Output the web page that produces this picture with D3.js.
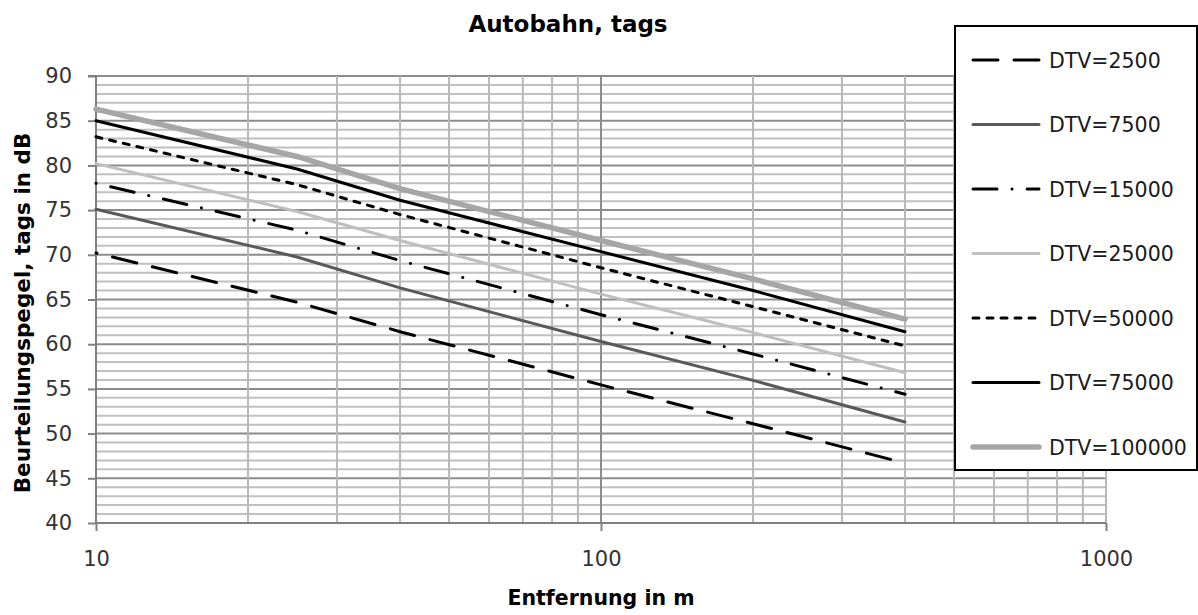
<!DOCTYPE html>
<html>
<head>
<meta charset="utf-8">
<script src="https://cdn.jsdelivr.net/npm/d3@7"></script>
<style>
  html, body { margin: 0; padding: 0; background: #fff; }
  svg { display: block; }
</style>
</head>
<body>
<svg id="chart" width="1198" height="615"></svg>
<script>
// Distances (m) at which the levels are given
const distances = [10, 25, 40, 100, 200, 400];

// Beurteilungspegel (dB) per traffic volume
const dtv2500   = [70.2, 64.7, 61.4, 55.45, 51.1, 46.7];
const dtv7500   = [75.1, 69.75, 66.3, 60.3, 55.95, 51.3];
const dtv15000  = [78.0, 72.75, 69.35, 63.3, 58.9, 54.4];
const dtv25000  = [80.2, 74.85, 71.6, 65.6, 61.3, 56.8];
const dtv50000  = [83.2, 77.85, 74.5, 68.55, 64.2, 59.8];
const dtv75000  = [85.0, 79.6, 76.1, 70.35, 66.0, 61.4];
const dtv100000 = [86.3, 81.0, 77.4, 71.6, 67.3, 62.8];

const seriesNames = ["DTV=2500", "DTV=7500", "DTV=15000", "DTV=25000", "DTV=50000", "DTV=75000", "DTV=100000"];
const seriesValues = [dtv2500, dtv7500, dtv15000, dtv25000, dtv50000, dtv75000, dtv100000];

const xTickValues = [10, 100, 1000];
const yTickValues = [40, 45, 50, 55, 60, 65, 70, 75, 80, 85, 90];

const titleText = "Autobahn, tags";
const xTitle = "Entfernung in m";
const yTitle = "Beurteilungspegel, tags in dB";

// line styles per series
const styles = [
  { color: "#000000", width: 3,   dash: "25,16",           offset: 24, cap: "round" },
  { color: "#595959", width: 3,   dash: null,              offset: 0,  cap: "round" },
  { color: "#000000", width: 3,   dash: "24,15,0.1,15",    offset: 39, cap: "round" },
  { color: "#bfbfbf", width: 3,   dash: null,              offset: 0,  cap: "round" },
  { color: "#000000", width: 3,   dash: "6,8",             offset: 0,  cap: "round" },
  { color: "#000000", width: 3,   dash: null,              offset: 0,  cap: "round" },
  { color: "#a6a6a6", width: 5.5, dash: null,              offset: 0,  cap: "round" }
];

const FONT = "'DejaVu Sans', 'Open Sans', sans-serif";

const svg = d3.select("#chart");
svg.append("rect").attr("width", 1198).attr("height", 615).attr("fill", "#fff");

const x = d3.scaleLog().domain([10, 1000]).range([96, 1106]);
const y = d3.scaleLinear().domain([40, 90]).range([523, 76]);

const grid = svg.append("g");

// horizontal gridlines, 1 dB minor / 5 dB major
const hVals = d3.range(41, 91);
grid.selectAll("line.h").data(hVals).join("line")
  .attr("x1", x(10)).attr("x2", x(1000))
  .attr("y1", d => y(d)).attr("y2", d => y(d))
  .attr("stroke", d => d % 5 === 0 ? "#8c8c8c" : "#c0c0c0")
  .attr("stroke-width", 2);

// vertical gridlines at every log sub-division
const vVals = [];
[10, 100].forEach(b => { for (let k = 2; k <= 10; k++) vVals.push(b * k); });
grid.selectAll("line.v").data(vVals).join("line")
  .attr("x1", d => x(d)).attr("x2", d => x(d))
  .attr("y1", y(40)).attr("y2", y(90))
  .attr("stroke", d => d === 100 ? "#8c8c8c" : "#b8b8b8")
  .attr("stroke-width", 2);

// axes
const xAxis = d3.axisBottom(x).tickValues(xTickValues).tickFormat(d3.format("d")).tickSize(8).tickPadding(20);
const yAxis = d3.axisLeft(y).tickValues(yTickValues).tickSize(8).tickPadding(16);

const gx = svg.append("g").attr("transform", `translate(0,${y(40)})`).call(xAxis);
const gy = svg.append("g").attr("transform", `translate(${x(10)},0)`).call(yAxis);

[gx, gy].forEach(g => {
  g.select(".domain").attr("stroke", "#808080").attr("stroke-width", 2);
  g.selectAll(".tick line").attr("stroke", "#808080").attr("stroke-width", 2);
  g.selectAll(".tick text").attr("fill", "#333").attr("font-family", FONT).attr("font-size", 21);
});
gy.select(".domain").attr("d", `M-8,${y(90)}H0V${y(40)}`);
gx.select(".domain").attr("d", `M${x(10)},0H${x(1000)}`);

// series lines
const line = d3.line().x(d => x(d[0])).y(d => y(d[1]));
seriesValues.forEach((vals, i) => {
  const s = styles[i];
  const pts = distances.map((d, j) => [d, vals[j]]);
  const p = svg.append("path")
    .attr("d", line(pts))
    .attr("fill", "none")
    .attr("stroke", s.color)
    .attr("stroke-width", s.width)
    .attr("stroke-linecap", s.cap)
    .attr("stroke-linejoin", "round");
  if (s.dash) p.attr("stroke-dasharray", s.dash).attr("stroke-dashoffset", s.offset);
});

// title and axis titles
svg.append("text").attr("x", 568).attr("y", 32).attr("text-anchor", "middle")
  .attr("font-family", FONT).attr("font-weight", "bold").attr("font-size", 23).attr("fill", "#000")
  .text(titleText);
svg.append("text").attr("x", 601).attr("y", 605).attr("text-anchor", "middle")
  .attr("font-family", FONT).attr("font-weight", "bold").attr("font-size", 20.5).attr("fill", "#000")
  .text(xTitle);
svg.append("text").attr("transform", "translate(30,313) rotate(-90)").attr("text-anchor", "middle")
  .attr("font-family", FONT).attr("font-weight", "bold").attr("font-size", 21.5).attr("fill", "#000")
  .text(yTitle);

// legend
const lg = svg.append("g");
lg.append("rect").attr("x", 955).attr("y", 26).attr("width", 242).attr("height", 444)
  .attr("fill", "#fff").attr("stroke", "#000").attr("stroke-width", 2);
seriesNames.forEach((name, i) => {
  const s = styles[i];
  const cy = 60 + i * 64.5;
  const l = lg.append("line").attr("x1", 973).attr("x2", 1039).attr("y1", cy).attr("y2", cy)
    .attr("stroke", s.color).attr("stroke-width", s.width).attr("stroke-linecap", s.cap);
  if (s.dash) l.attr("stroke-dasharray", s.dash);
  lg.append("text").attr("x", 1049).attr("y", cy + 7.5)
    .attr("font-family", FONT).attr("font-size", 20.5).attr("fill", "#1a1a1a")
    .text(name);
});
</script>
</body>
</html>
